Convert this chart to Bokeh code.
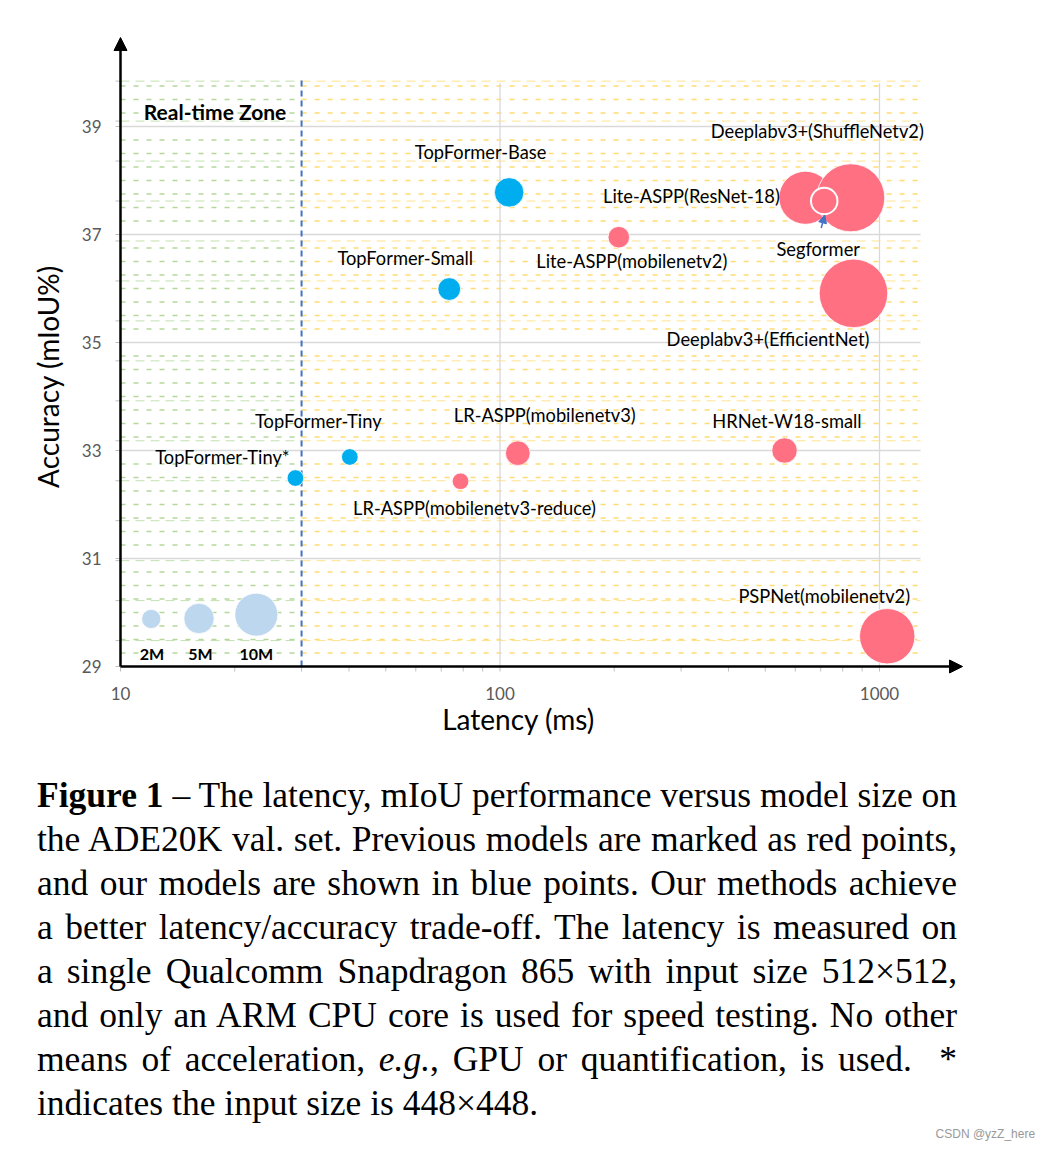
import math
from bokeh.plotting import figure
from bokeh.models import Range1d, Arrow, NormalHead, ColumnDataSource, Div
from bokeh.layouts import column
from bokeh.embed import file_html
from bokeh.resources import INLINE
from bokeh.core.properties import value

# ---------------- data ----------------
ours_names = ["TopFormer-Tiny*", "TopFormer-Tiny", "TopFormer-Small", "TopFormer-Base"]
ours_latency = [28.9, 40.2, 73.5, 105.7]
ours_miou = [32.49, 32.88, 35.99, 37.78]
ours_params = [1.5, 1.5, 2.8, 4.7]

prev_names = ["LR-ASPP(mobilenetv3-reduce)", "LR-ASPP(mobilenetv3)", "HRNet-W18-small",
              "Lite-ASPP(mobilenetv2)", "Lite-ASPP(ResNet-18)", "Deeplabv3+(ShuffleNetv2)",
              "Deeplabv3+(EfficientNet)", "PSPNet(mobilenetv2)"]
prev_latency = [78.7, 111.4, 562, 205.6, 638, 840, 854, 1048]
prev_miou = [32.43, 32.95, 33.0, 36.95, 37.68, 37.68, 35.91, 29.56]
prev_params = [1.5, 3.3, 3.5, 2.5, 15.2, 25.0, 25.4, 16.6]

seg_names = ["Segformer"]
seg_latency = [715]
seg_miou = [37.62]
seg_params = [3.8]

legend_labels = ["2M", "5M", "10M"]
legend_params = [2, 5, 10]
legend_latency = [12.05, 16.1, 22.8]
legend_miou = [29.88, 29.89, 29.96]

realtime_ms = 30
x_ticks = [10, 100, 1000]
x_tick_labels = ["10", "100", "1000"]
x_minor_ticks = [20, 30, 40, 50, 60, 70, 80, 90, 200, 300, 400, 500, 600, 700, 800, 900]
y_ticks = [29, 31, 33, 35, 37, 39]
y_tick_labels = ["29", "31", "33", "35", "37", "39"]

x_title = "Latency (ms)"
y_title = "Accuracy (mIoU%)"
zone_title = "Real-time Zone"

caption_lines = [
    "<b>Figure 1</b> – The latency, mIoU performance versus model size on",
    "the ADE20K val. set. Previous models are marked as red points,",
    "and our models are shown in blue points. Our methods achieve",
    "a better latency/accuracy trade-off. The latency is measured on",
    "a single Qualcomm Snapdragon 865 with input size 512×512,",
    "and only an ARM CPU core is used for speed testing. No other",
    "means of acceleration, <i>e.g.</i>, GPU or quantification, is used. &nbsp;*",
    "indicates the input size is 448×448.",
]
watermark = "CSDN @yzZ_here"

# ---------------- style / geometry ----------------
W, H = 1043, 753
ORIGIN_PX = (120, 666)   # canvas position of (10 ms, 29 %)
PX_DEC = 379.5           # pixels per decade on x
PX_UNIT = 54.0           # pixels per mIoU unit on y
X0, Y0 = 10, 29
x_start = X0 * 10 ** (-ORIGIN_PX[0] / PX_DEC)
x_end = X0 * 10 ** ((W - ORIGIN_PX[0]) / PX_DEC)
y_start = Y0 - (H - ORIGIN_PX[1]) / PX_UNIT
y_end = Y0 + ORIGIN_PX[1] / PX_UNIT
grid_x_end = X0 * 10 ** (800 / PX_DEC)
grid_y_top = 39.8
K = 6.8  # bubble radius per sqrt(M params)


def xs(dpx):
    """x data value dpx pixels right of the origin"""
    return X0 * 10 ** (dpx / PX_DEC)


def ys(dpx):
    """y data value dpx pixels above the origin"""
    return Y0 + dpx / PX_UNIT


RED = "#FF7182"
BLUE = "#00AEEF"
LIGHT = "#BDD7EE"
GREEN_D = "#B4D89C"
YELLOW_D = "#FFDC73"
GRID = "#D9D9D9"
TICK = "#BFBFBF"
LINE_BLUE = "#4472C4"
FONT = "Lato"

label_off = {
    "TopFormer-Tiny*": (-73, -21),
    "TopFormer-Tiny": (-31.5, -36),
    "TopFormer-Small": (-44, -31),
    "TopFormer-Base": (-28.5, -40),
    "LR-ASPP(mobilenetv3-reduce)": (14, 27),
    "LR-ASPP(mobilenetv3)": (27, -38),
    "HRNet-W18-small": (2.5, -30),
    "Lite-ASPP(mobilenetv2)": (13, 23.5),
    "Lite-ASPP(ResNet-18)": (-114, -1.5),
    "Deeplabv3+(ShuffleNetv2)": (-33.5, -67),
    "Deeplabv3+(EfficientNet)": (-85.5, 45.5),
    "PSPNet(mobilenetv2)": (-63, -40),
    "Segformer": (-6, 48),
    "2M": (0.6, 34.4),
    "5M": (1.5, 35),
    "10M": (0, 38.4),
}


def diam(params):
    return [2 * K * math.sqrt(v) for v in params]


p = figure(width=W, height=H, x_axis_type="log",
           x_range=Range1d(x_start, x_end), y_range=Range1d(y_start, y_end),
           x_axis_location=None, y_axis_location=None,
           output_backend="svg", toolbar_location=None,
           min_border=0)
p.grid.visible = False
p.outline_line_color = None
p.background_fill_color = "white"

# dashed minor grid
sec_ys = [29.48 + 0.74 * i for i in range(15)]
minor_ys = [29.25 + 0.25 * i for i in range(43)]
minor_ys = [v for v in minor_ys if not (abs(v - round(v)) < 1e-6 and int(round(v)) % 2 == 1)]
n = len(minor_ys)
p.segment(x0=[X0] * n, x1=[realtime_ms] * n, y0=minor_ys, y1=minor_ys,
          line_color=GREEN_D, line_width=1.3, line_dash="5 8")
p.segment(x0=[realtime_ms] * n, x1=[grid_x_end] * n, y0=minor_ys, y1=minor_ys,
          line_color=YELLOW_D, line_width=1.3, line_dash="5 8")
m = len(sec_ys)
p.segment(x0=[X0] * m, x1=[realtime_ms] * m, y0=sec_ys, y1=sec_ys,
          line_color=GREEN_D, line_width=1.0, line_dash="9 6", line_alpha=0.8)
p.segment(x0=[realtime_ms] * m, x1=[grid_x_end] * m, y0=sec_ys, y1=sec_ys,
          line_color=YELLOW_D, line_width=1.0, line_dash="9 6", line_alpha=0.8)

# major grid
maj_ys = [v for v in y_ticks if v > Y0]
p.segment(x0=[X0] * len(maj_ys), x1=[grid_x_end] * len(maj_ys), y0=maj_ys, y1=maj_ys,
          line_color=GRID, line_width=1.3)
maj_xs = [v for v in x_ticks if v > X0]
p.segment(x0=maj_xs, x1=maj_xs, y0=[Y0] * len(maj_xs), y1=[grid_y_top] * len(maj_xs),
          line_color=GRID, line_width=1.3)

# real-time threshold
p.segment(x0=[realtime_ms], x1=[realtime_ms], y0=[Y0], y1=[39.9],
          line_color=LINE_BLUE, line_width=2, line_dash="6 4")

# axis ticks (own axes)
all_xt = x_ticks + x_minor_ticks
p.segment(x0=all_xt, x1=all_xt, y0=[Y0] * len(all_xt), y1=[ys(-5)] * len(all_xt),
          line_color=TICK, line_width=1)
all_yt = y_ticks + sec_ys
p.segment(x0=[xs(-5)] * len(all_yt), x1=[X0] * len(all_yt), y0=all_yt, y1=all_yt,
          line_color=TICK, line_width=1)
p.text(x=x_ticks, y=[Y0] * len(x_ticks), text=x_tick_labels, y_offset=27,
       text_font=value(FONT), text_font_size="17px", text_color="#595959",
       text_align="center", text_baseline="middle")
p.text(x=[X0] * len(y_ticks), y=y_ticks, text=y_tick_labels, x_offset=-19,
       text_font=value(FONT), text_font_size="17px", text_color="#595959",
       text_align="right", text_baseline="middle")

# bubbles
def src_for(names, lat, miou, params):
    return ColumnDataSource(dict(x=lat, y=miou, s=diam(params), t=names,
                                 dx=[label_off[t][0] for t in names],
                                 dy=[label_off[t][1] for t in names]))


src_leg = src_for(legend_labels, legend_latency, legend_miou, legend_params)
src_ours = src_for(ours_names, ours_latency, ours_miou, ours_params)
src_prev = src_for(prev_names, prev_latency, prev_miou, prev_params)
src_seg = src_for(seg_names, seg_latency, seg_miou, seg_params)

p.scatter("x", "y", size="s", source=src_leg, fill_color=LIGHT, line_color="white", line_width=0.8)
p.scatter("x", "y", size="s", source=src_ours, fill_color=BLUE, line_color="white", line_width=0.8)
p.scatter("x", "y", size="s", source=src_prev, fill_color=RED, line_color="white", line_width=0.8)
p.scatter("x", "y", size="s", source=src_seg, fill_color=RED, line_color="white", line_width=2)

# labels
for src in (src_ours, src_prev, src_seg):
    p.text("x", "y", text="t", source=src, x_offset="dx", y_offset="dy",
           text_font=value(FONT), text_font_size="18.3px", text_color="black",
           text_align="center", text_baseline="middle")
p.text("x", "y", text="t", source=src_leg, x_offset="dx", y_offset="dy",
       text_font=value(FONT), text_font_size="16px", text_font_style="bold",
       text_color="black", text_align="center", text_baseline="middle")

# Segformer pointer
sx, sy = seg_latency[0], seg_miou[0]
p.add_layout(Arrow(end=NormalHead(size=8, fill_color=LINE_BLUE, line_color=LINE_BLUE),
                   x_start=sx * 10 ** (-3 / PX_DEC), y_start=sy - 27 / PX_UNIT,
                   x_end=sx * 10 ** (0.5 / PX_DEC), y_end=sy - 14 / PX_UNIT,
                   line_color=LINE_BLUE, line_width=1.5))

# axis arrows
p.add_layout(Arrow(end=NormalHead(size=13, fill_color="black", line_color="black"),
                   x_start=X0, y_start=Y0, x_end=xs(842), y_end=Y0,
                   line_color="black", line_width=2.5))
p.add_layout(Arrow(end=NormalHead(size=13, fill_color="black", line_color="black"),
                   x_start=X0, y_start=Y0, x_end=X0, y_end=ys(629),
                   line_color="black", line_width=2.5))

# zone title and axis titles
p.text(x=[realtime_ms], y=[39], text=[zone_title], x_offset=-86.5, y_offset=-15,
       text_font=value(FONT), text_font_size="21px", text_font_style="bold",
       text_color="black", text_align="center", text_baseline="middle")
p.text(x=[xs(398)], y=[Y0], text=[x_title], y_offset=52,
       text_font=value(FONT), text_font_size="28px", text_color="black",
       text_align="center", text_baseline="middle")
p.text(x=[X0], y=[ys(290)], text=[y_title], x_offset=-73, angle=math.pi / 2,
       text_font=value(FONT), text_font_size="28px", text_color="black",
       text_align="center", text_baseline="middle")

# caption
rows = []
for i, line in enumerate(caption_lines):
    last = "left" if i == len(caption_lines) - 1 else "justify"
    rows.append(f'<div style="text-align:justify;text-align-last:{last};white-space:nowrap;">{line}</div>')
html = ('<div style="padding:15px 84px 0 32px;font-family:\'Liberation Serif\';font-size:35.5px;'
        'line-height:44px;color:black;">' + "".join(rows) + '</div>'
        '<div style="text-align:right;padding-right:6px;margin-top:2px;font-family:\'Liberation Sans\';'
        'font-size:12px;line-height:14px;color:#999999;">' + watermark + '</div>')
div = Div(text=html, width=1035, height=390)

layout = column(p, div)
open("out.html", "w").write(file_html(layout, INLINE))
